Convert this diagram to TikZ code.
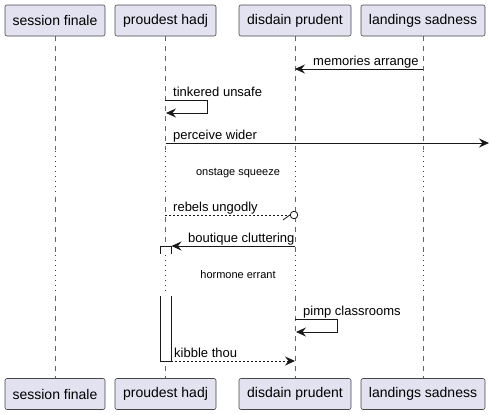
\documentclass[tikz,border=0pt]{standalone}
\usepackage{fontspec}
\setmainfont{Liberation Sans}
\usetikzlibrary{arrows.meta}
\definecolor{pbox}{HTML}{E2E2F0}
\definecolor{pline}{HTML}{181818}
\definecolor{delayc}{HTML}{8B0A3A}
\tikzset{
  part/.style={draw=pline!80, fill=pbox, rounded corners=2pt, line width=0.6pt, minimum height=31pt, inner sep=0pt, font=\fontsize{14pt}{16pt}\selectfont, text=black},
  life/.style={draw=gray!80!black, line width=0.5pt, dash pattern=on 5pt off 5pt},
  delayline/.style={draw=delayc, line width=0.6pt, dash pattern=on 0.8pt off 4.2pt},
  msg/.style={draw=pline, line width=0.8pt, -{Stealth[length=10pt,width=9pt,inset=3.5pt]}},
  dmsg/.style={msg, dash pattern=on 2pt off 2pt},
  lbl/.style={font=\fontsize{13pt}{15pt}\selectfont, inner sep=0pt, anchor=base west},
  dlbl/.style={font=\fontsize{11pt}{13pt}\selectfont, inner sep=0pt},
}
\begin{document}
\begin{tikzpicture}[x=1pt,y=-1pt]
\useasboundingbox (0,0) rectangle (490,415);
% participants top
\node[part, minimum width=100pt] (sf) at (55,20.5) {session finale};
\node[part, minimum width=101pt] (ph) at (165.5,20.5) {proudest hadj};
\node[part, minimum width=112pt] (dp) at (295,20.5) {disdain prudent};
\node[part, minimum width=124pt] (ls) at (423,20.5) {landings sadness};
% participants bottom
\node[part, minimum width=100pt] (sfb) at (55,394) {session finale};
\node[part, minimum width=101pt] (phb) at (165.5,394) {proudest hadj};
\node[part, minimum width=112pt] (dpb) at (295,394) {disdain prudent};
\node[part, minimum width=124pt] (lsb) at (423,394) {landings sadness};
% lifelines
\foreach \x/\a/\b in {55/sf/sfb,165/ph/phb,295/dp/dpb,423/ls/lsb}{
  \draw[life] (\x,36) -- (\x,150);
  \draw[delayline] (\x,151) -- (\x,196);
  \draw[life] (\x,197) -- (\x,254);
  \draw[delayline] (\x,255) -- (\x,295);
  \draw[life] (\x,296) -- (\x,378);
}
% activation box
\fill[white] (160,246) rectangle (171,254);
\draw[pline, line width=0.7pt] (160,254) -- (160,246) -- (171,246) -- (171,254);
\fill[white] (160,296) rectangle (171,361);
\draw[pline, line width=0.7pt] (160,296) -- (160,361) -- (171,361) -- (171,296);
% memories arrange
\draw[msg] (ls.south |- 0,69) -- (dp.south |- 0,69);
\node[lbl] (m1) at (313,65) {memories arrange};
% tinkered unsafe
\draw[msg] (165,100) -- (207,100) -- (207,113) -- (166,113);
\node[lbl] (m2) at (173,96) {tinkered unsafe};
% perceive wider
\coordinate (edge) at (489,143);
\draw[msg] (ph.south |- 0,143) -- (edge);
\node[lbl] (m3) at (173,139) {perceive wider};
% delay 1
\node[dlbl] (d1) at (238,173) {onstage squeeze};
% rebels ungodly
\node[circle, draw=pline, fill=white, line width=0.8pt, minimum size=7.5pt, inner sep=0pt] (c1) at (294,215) {};
\draw[pline, line width=0.8pt, dash pattern=on 2pt off 2pt] (165,215) -- (c1.west);
\draw[pline, line width=0.8pt] (283,220) -- (c1.west);
\node[lbl] (m4) at (173,211) {rebels ungodly};
% boutique cluttering
\draw[msg] (dp.south |- 0,246) -- (171.5,246);
\node[lbl] (m5) at (188,242) {boutique cluttering};
% delay 2
\node[dlbl] (d2) at (238,275) {hormone errant};
% pimp classrooms
\draw[msg] (295,319) -- (337,319) -- (337,332) -- (296,332);
\node[lbl] (m6) at (303,315) {pimp classrooms};
% kibble thou
\draw[dmsg] (171,361) -- (dp.south |- 0,361);
\node[lbl] (m7) at (174,357) {kibble thou};
\end{tikzpicture}
\end{document}
